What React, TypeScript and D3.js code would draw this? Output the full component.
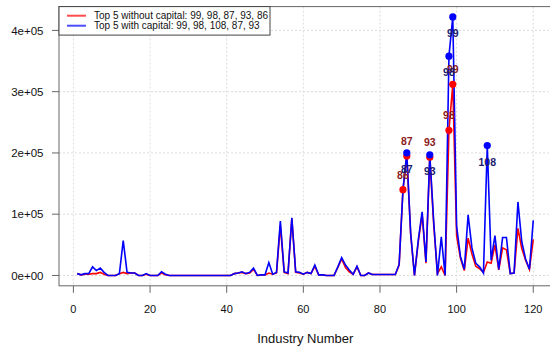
import React from "react";
import * as d3 from "d3";

// industries 1..120
const industry = d3.range(1, 121);

const withoutCapital = [
  3000, 1000, 2000, 2000, 3000, 3000, 5000, 2000, 0, 0,
  0, 3000, 5000, 3000, 4000, 4000, 0, 0, 2000, 0,
  0, 0, 4000, 1000, 0, 0, 0, 0, 0, 0,
  0, 0, 0, 0, 0, 0, 0, 0, 0, 0,
  0, 3000, 4000, 5000, 3000, 4000, 10000, 0, 1000, 1000,
  4000, 2000, 4000, 82000, 5000, 3000, 93000, 5000, 4000, 2000,
  5000, 3000, 15000, 1000, 1000, 0, 0, 0, 13000, 27000,
  13000, 6000, 2000, 14000, 0, 0, 4000, 1500, 1500, 1500,
  1500, 1500, 1500, 1500, 17000, 140000, 195000, 68000, 0, 55000,
  100000, 20000, 193000, 85000, 3000, 14000, 0, 237000, 312000, 65000,
  28000, 8000, 61000, 35000, 15000, 11000, 5000, 22000, 20000, 50000,
  9000, 45000, 42000, 3000, 4000, 77000, 44000, 25000, 10000, 59000,
];

const withCapital = [
  3000, 1000, 3000, 3000, 14000, 8000, 12000, 5000, 0, 0,
  0, 3000, 57000, 5000, 4000, 4000, 0, 0, 3000, 0,
  0, 0, 6000, 2000, 0, 0, 0, 0, 0, 0,
  0, 0, 0, 0, 0, 0, 0, 0, 0, 0,
  0, 3000, 4000, 6000, 3000, 5000, 12000, 0, 1000, 1000,
  21000, 2000, 5000, 89000, 6000, 4000, 94000, 6000, 5000, 2000,
  5000, 3000, 17000, 1000, 1000, 0, 0, 0, 14000, 29000,
  17000, 9000, 2000, 15000, 0, 0, 4000, 1500, 1500, 1500,
  1500, 1500, 1500, 1500, 18000, 140000, 200000, 70000, 0, 58000,
  104000, 22000, 197000, 90000, 0, 63000, 0, 358000, 422000, 80000,
  31000, 10000, 99000, 45000, 20000, 14000, 4000, 212000, 25000, 65000,
  10000, 62000, 62000, 3000, 4000, 120000, 55000, 27000, 10000, 90000,
];

const topWithout = [99, 98, 87, 93, 86];
const topWith = [99, 98, 108, 87, 93];

const xTicks = [0, 20, 40, 60, 80, 100, 120];
const yTicks = [0, 100000, 200000, 300000, 400000];
const yTickLabels = ["0e+00", "1e+05", "2e+05", "3e+05", "4e+05"];

const FONT = "'Liberation Sans', Arial, sans-serif";

export default function App() {
  const width = 550;
  const height = 354;
  const left = 59;
  const right = 551.5;
  const top = 6.6;
  const bottom = 285.8;

  const xmin = d3.min(industry) as number;
  const xmax = d3.max(industry) as number;
  const ymax = d3.max(withCapital) as number;
  const xpad = (xmax - xmin) * 0.04;
  const ypad = ymax * 0.04;

  const xScale = d3.scaleLinear().domain([xmin - xpad, xmax + xpad]).range([left, right]);
  const yScale = d3.scaleLinear().domain([-ypad, ymax + ypad]).range([bottom, top]);

  const line = d3
    .line<number>()
    .x((_, i) => xScale(industry[i]))
    .y((d) => yScale(d));

  const val = (arr: number[], ind: number) => arr[industry.indexOf(ind)];

  return (
    <svg
      width={width}
      height={height}
      style={{ position: "absolute", left: 0, top: 0, background: "white" }}
      fontFamily={FONT}
    >
      {/* grid */}
      {xTicks.map((t) => (
        <line key={"gx" + t} x1={xScale(t)} x2={xScale(t)} y1={top} y2={bottom}
          stroke="#dcdcdc" strokeDasharray="2 2" />
      ))}
      {yTicks.map((t) => (
        <line key={"gy" + t} x1={left} x2={right} y1={yScale(t)} y2={yScale(t)}
          stroke="#dcdcdc" strokeDasharray="2 2" />
      ))}

      {/* series */}
      <path d={line(withoutCapital) || ""} fill="none" stroke="#ff0000" strokeWidth={1.6} />
      <path d={line(withCapital) || ""} fill="none" stroke="#0000ff" strokeWidth={1.6} />

      {topWithout.map((ind) => (
        <circle key={"rp" + ind} cx={xScale(ind)} cy={yScale(val(withoutCapital, ind))} r={3.6} fill="#ff0000" />
      ))}
      {topWith.map((ind) => (
        <circle key={"bp" + ind} cx={xScale(ind)} cy={yScale(val(withCapital, ind))} r={3.6} fill="#0000ff" />
      ))}
      {topWithout.map((ind) => (
        <text key={"rl" + ind} x={xScale(ind)} y={yScale(val(withoutCapital, ind)) - 11}
          textAnchor="middle" fontSize={10.5} fontWeight="bold" fill="#8b1a1a">{ind}</text>
      ))}
      {topWith.map((ind) => (
        <text key={"bl" + ind} x={xScale(ind)} y={yScale(val(withCapital, ind)) + 20}
          textAnchor="middle" fontSize={10.5} fontWeight="bold" fill="#1c1c6e">{ind}</text>
      ))}

      {/* box */}
      <rect x={left} y={top} width={right - left} height={bottom - top} fill="none" stroke="#666" />

      {/* x axis */}
      {xTicks.map((t) => (
        <g key={"xt" + t}>
          <line x1={xScale(t)} x2={xScale(t)} y1={bottom} y2={bottom + 7} stroke="#666" />
          <text x={xScale(t)} y={313.3} textAnchor="middle" fontSize={11} fill="#111">{t}</text>
        </g>
      ))}
      {/* y axis */}
      {yTicks.map((t, i) => (
        <g key={"yt" + t}>
          <line x1={left} x2={left - 7} y1={yScale(t)} y2={yScale(t)} stroke="#666" />
          <text x={43.5} y={yScale(t)} dy="0.36em" textAnchor="end" fontSize={11.5} fill="#111">{yTickLabels[i]}</text>
        </g>
      ))}
      <text x={(left + right) / 2} y={343} textAnchor="middle" fontSize={13} fill="#111">Industry Number</text>

      {/* legend */}
      <rect x={left} y={top} width={211} height={28.5} fill="white" stroke="#444" />
      <line x1={67} x2={86} y1={15.7} y2={15.7} stroke="#ff4d4d" strokeWidth={2} />
      <line x1={67} x2={86} y1={25.7} y2={25.7} stroke="#4d4dff" strokeWidth={2} />
      <text x={94} y={19.3} fontSize={10} fill="#111">
        {"Top 5 without capital: " + topWithout.join(", ")}
      </text>
      <text x={94} y={29.3} fontSize={10} fill="#111">
        {"Top 5 with capital: " + topWith.join(", ")}
      </text>
    </svg>
  );
}
